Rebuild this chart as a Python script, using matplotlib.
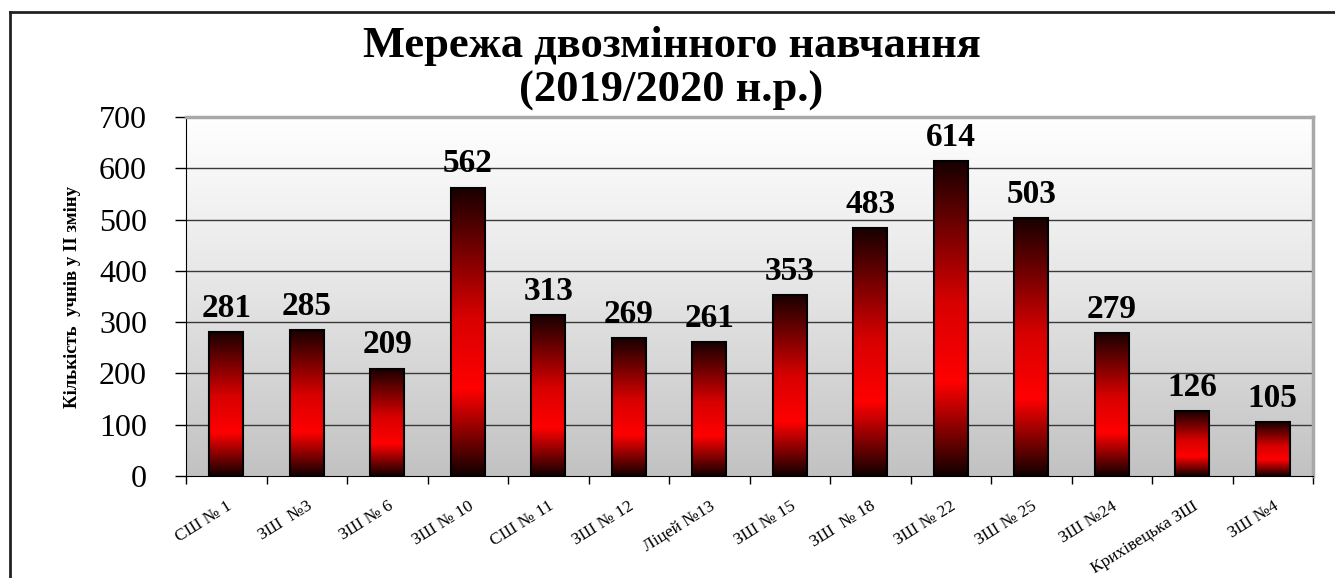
import numpy as np
import matplotlib.pyplot as plt
from matplotlib.colors import LinearSegmentedColormap
from matplotlib.lines import Line2D

# données
ecoles = ['СШ № 1', 'ЗШ  №3', 'ЗШ № 6', 'ЗШ № 10', 'СШ № 11', 'ЗШ № 12', 'Ліцей №13',
          'ЗШ № 15', 'ЗШ  № 18', 'ЗШ № 22', 'ЗШ № 25', 'ЗШ №24', 'Крихівецька ЗШ', 'ЗШ №4']
eleves = [281, 285, 209, 562, 313, 269, 261, 353, 483, 614, 503, 279, 126, 105]
graduations = [0, 100, 200, 300, 400, 500, 600, 700]

plt.rcParams['font.family'] = ['Liberation Serif', 'DejaVu Serif']

fig = plt.figure(figsize=(13.35, 5.78), dpi=100)
ax = fig.add_axes([186 / 1335, 1 - 476 / 578, (1313 - 186) / 1335, (476 - 117) / 578])

x = np.arange(len(ecoles))
ax.set_xlim(-0.5, len(ecoles) - 0.5)
ax.set_ylim(0, 700)

# fond dégradé blanc -> gris
fond = np.linspace(0, 1, 256).reshape(-1, 1)
cmap_fond = LinearSegmentedColormap.from_list('fond', ['#c2c2c2', '#e4e4e4', '#ffffff'])
ax.imshow(fond, cmap=cmap_fond, origin='lower', aspect='auto',
          extent=(-0.5, len(ecoles) - 0.5, 0, 700), zorder=0)

for g in graduations[1:]:
    ax.axhline(g, color='#3a3a3a', lw=1, zorder=1)

# barres avec dégradé vertical
cmap_barre = LinearSegmentedColormap.from_list(
    'barre', [(0, '#120000'), (0.3, '#ff0000'), (0.55, '#d80000'), (1, '#180000')])
barres = ax.bar(x, eleves, width=0.42, facecolor='none', edgecolor='black', lw=1.5, zorder=3)
for b in barres:
    x0, w, h = b.get_x(), b.get_width(), b.get_height()
    im = ax.imshow(fond, cmap=cmap_barre, origin='lower', aspect='auto',
                   extent=(x0, x0 + w, 0, h), zorder=2)
    im.set_clip_path(b)

for xi, v in zip(x, eleves):
    ax.annotate(str(v), (xi, v), xytext=(0, 6), textcoords='offset points',
                ha='center', va='bottom', fontsize=24, fontweight='bold', zorder=4)

# axes
ax.set_yticks(graduations)
ax.set_yticklabels([str(g) for g in graduations], fontsize=23)
ax.tick_params(axis='y', length=8, width=1, direction='out', pad=20)
ax.set_xticks(x)
ax.set_xticklabels(ecoles, rotation=32, ha='right', va='top', rotation_mode='anchor', fontsize=12.5)
ax.tick_params(axis='x', which='major', length=0, pad=16)
ax.set_xticks(np.arange(-0.5, len(ecoles)), minor=True)
ax.tick_params(axis='x', which='minor', length=6, width=1)

ax.spines['left'].set_color('black')
ax.spines['bottom'].set_color('black')
ax.spines['top'].set_color('#a8a8a8')
ax.spines['right'].set_color('#a8a8a8')
ax.spines['top'].set_linewidth(2.5)
ax.spines['right'].set_linewidth(2.5)

ax.set_ylabel('Кількість  учнів у ІІ зміну', fontsize=13.5, fontweight='bold', labelpad=13)

fig.text(0.503, 1 - 46 / 578, 'Мережа двозмінного навчання', ha='center', va='center',
         fontsize=32, fontweight='bold')
fig.text(0.503, 1 - 91 / 578, '(2019/2020 н.р.)', ha='center', va='center',
         fontsize=32, fontweight='bold')

# cadre extérieur
fig.add_artist(Line2D([10 / 1335, 10 / 1335], [0, 1 - 12 / 578], color='#222222', lw=2))
fig.add_artist(Line2D([10 / 1335, 1], [1 - 12 / 578, 1 - 12 / 578], color='#222222', lw=2))

fig.savefig('out.png', dpi=100)
